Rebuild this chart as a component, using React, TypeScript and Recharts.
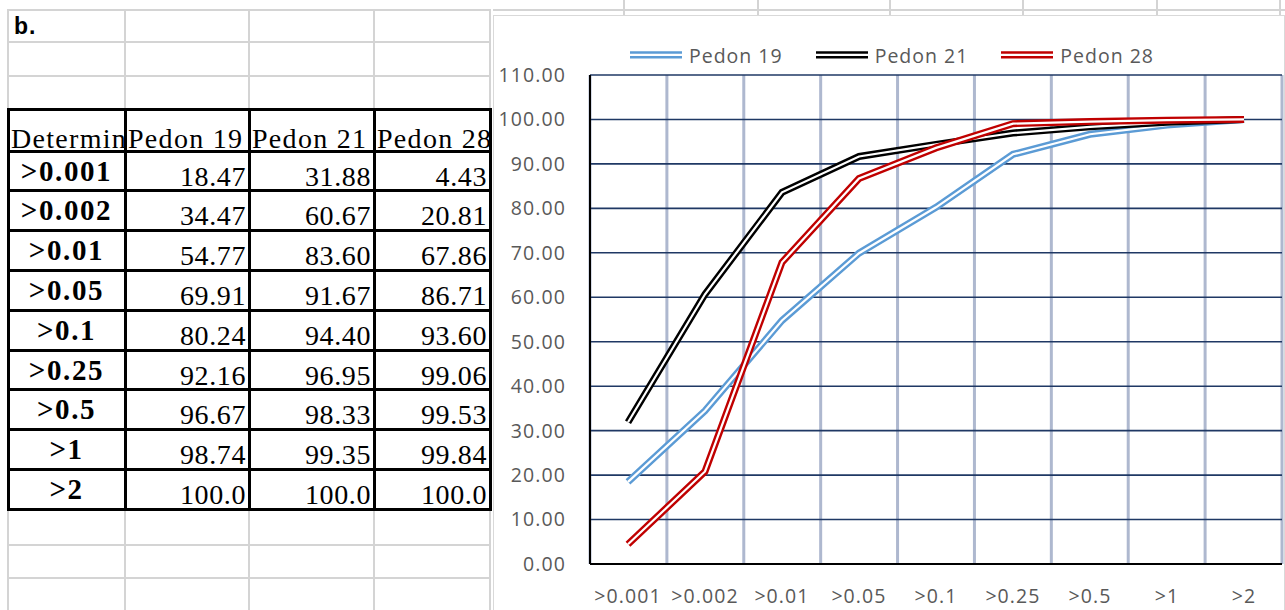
import React from "react";
import { LineChart, Line, XAxis, YAxis, CartesianGrid } from "recharts";

const categories = [">0.001", ">0.002", ">0.01", ">0.05", ">0.1", ">0.25", ">0.5", ">1", ">2"];
const pedon19 = [18.47, 34.47, 54.77, 69.91, 80.24, 92.16, 96.67, 98.74, 100.0];
const pedon21 = [31.88, 60.67, 83.6, 91.67, 94.4, 96.95, 98.33, 99.35, 100.0];
const pedon28 = [4.43, 20.81, 67.86, 86.71, 93.6, 99.06, 99.53, 99.84, 100.0];
const seriesNames = ["Pedon 19", "Pedon 21", "Pedon 28"];
const yTicks = [0, 10, 20, 30, 40, 50, 60, 70, 80, 90, 100, 110];
const headerLabel = "Determination";

const COLORS = ["#5B9BD5", "#000000", "#C00000"];
const KEYS = ["p19", "p21", "p28"];
const SERIES = [pedon19, pedon21, pedon28];

const data = categories.map((cat, i) => ({
  cat,
  pos: i + 0.5,
  p19: pedon19[i],
  p21: pedon21[i],
  p28: pedon28[i],
}));

// category boundaries on the hidden numeric axis, for the vertical gridlines
const bounds = categories.slice(1).map((_, i) => i + 1);

const tickStyle = { fill: "#595959", fontSize: 19.5, fontFamily: "'Open Sans'", letterSpacing: 1.1 };

// spreadsheet layout
const colX = [8, 125, 249, 374, 490];
const tableTop = 109;
const headerBottom = 151;
const rowH = 39.8;
const rowY = categories.map((_, i) => headerBottom + (i + 1) * rowH);
const tableBottom = rowY[rowY.length - 1];
const fmt = (v: number) => (v >= 100 ? v.toFixed(1) : v.toFixed(2));

const serif = "'Liberation Serif', 'Times New Roman', serif";

const Cell = ({ x0, x1, base, text, bold = false, align = "right", size = 28, ls = 0, clip = false }: any) => {
  const h = size * 1.2;
  return (
    <div
      style={{
        position: "absolute",
        left: x0 + 2,
        width: x1 - x0 - 4,
        top: base - 0.9375 * size,
        height: h,
        lineHeight: `${h}px`,
        fontSize: size,
        fontFamily: serif,
        fontWeight: bold ? 700 : 400,
        letterSpacing: ls,
        textAlign: align,
        whiteSpace: "nowrap",
        overflow: clip ? "hidden" : "visible",
        color: "#000",
      }}
    >
      {text}
    </div>
  );
};

const hLine = (y: number, x0: number, x1: number, c: string, w: number, k: string) => (
  <div key={k} style={{ position: "absolute", left: x0, top: y - w / 2, width: x1 - x0, height: w, background: c }} />
);
const vLine = (x: number, y0: number, y1: number, c: string, w: number, k: string) => (
  <div key={k} style={{ position: "absolute", left: x - w / 2, top: y0, width: w, height: y1 - y0, background: c }} />
);

const GREY = "#d4d4d4";

const Sheet = () => {
  const lines: any[] = [];
  // grey spreadsheet grid above and below the table
  [10, 42, 76].forEach((y, i) => lines.push(hLine(y, 7, 491, GREY, 2, "gt" + i)));
  [545, 578].forEach((y, i) => lines.push(hLine(y, 7, 491, GREY, 2, "gb" + i)));
  colX.forEach((x, i) => {
    lines.push(vLine(x, 10, tableTop, GREY, 2, "gvt" + i));
    lines.push(vLine(x, tableBottom, 610, GREY, 2, "gvb" + i));
  });
  // grey strip above the chart
  lines.push(hLine(10, 493, 1285, GREY, 2, "ct"));
  [624, 758, 890, 1023, 1157, 1280].forEach((x, i) => lines.push(vLine(x, 0, 15, GREY, 2, "cv" + i)));
  // black table borders
  [tableTop, headerBottom, ...rowY].forEach((y, i) => lines.push(hLine(y, 6.5, 491.5, "#000", 3, "bh" + i)));
  colX.forEach((x, i) => lines.push(vLine(x, tableTop - 1.5, tableBottom + 1.5, "#000", 3, "bv" + i)));

  const cells: any[] = [];
  const heads = [headerLabel, ...seriesNames];
  heads.forEach((h, c) =>
    cells.push(
      <Cell key={"h" + c} x0={colX[c] + 1} x1={colX[c + 1] + 1} base={148} text={h} align="left" ls={1.3} clip />
    )
  );
  categories.forEach((cat, r) => {
    const bottom = rowY[r];
    cells.push(
      <Cell key={"l" + r} x0={colX[0]} x1={colX[1]} base={bottom - 10} text={cat} bold align="center" size={29} ls={1.6} />
    );
    SERIES.forEach((s, c) =>
      cells.push(
        <Cell key={"v" + r + c} x0={colX[c + 1]} x1={colX[c + 2] - 1} base={bottom - 5} text={fmt(s[r])} ls={0.6} />
      )
    );
  });

  return (
    <>
      {lines}
      <div
        style={{
          position: "absolute",
          left: 14,
          top: 13,
          fontFamily: "'Liberation Sans', Arial, sans-serif",
          fontWeight: 700,
          fontSize: 23,
          letterSpacing: 1,
          lineHeight: "26px",
        }}
      >
        b.
      </div>
      {cells}
    </>
  );
};

const LegendBox = () => (
  <div
    style={{
      position: "absolute",
      left: 630,
      top: 43,
      height: 24,
      display: "flex",
      alignItems: "center",
      gap: 33,
      fontFamily: "'Open Sans'",
      fontSize: 19.5,
      letterSpacing: 1,
      color: "#595959",
    }}
  >
    {seriesNames.map((n, i) => (
      <div key={n} style={{ display: "flex", alignItems: "center", gap: 7 }}>
        <svg width={52} height={10}>
          <line x1={0} x2={52} y1={2.5} y2={2.5} stroke={COLORS[i]} strokeWidth={2.6} />
          <line x1={0} x2={52} y1={7.2} y2={7.2} stroke={COLORS[i]} strokeWidth={2.6} />
        </svg>
        <span>{n}</span>
      </div>
    ))}
  </div>
);

export default function App() {
  return (
    <div style={{ position: "absolute", left: 0, top: 0, width: 1285, height: 610, background: "#fff", overflow: "hidden" }}>
      <Sheet />
      <div
        style={{
          position: "absolute",
          left: 493,
          top: 15,
          width: 790,
          height: 600,
          border: "1px solid #d9d9d9",
          background: "#fff",
        }}
      />
      <div style={{ position: "absolute", left: 494, top: 16 }}>
        <LineChart width={790} height={594} data={data} margin={{ top: 59, right: 2, bottom: 0, left: 0 }}>
          <XAxis xAxisId="g" type="number" dataKey="pos" domain={[0, 9]} ticks={bounds} hide allowDataOverflow />
          <CartesianGrid xAxisId="g" horizontal={false} stroke="#AEB8CF" strokeWidth={3} />
          <CartesianGrid vertical={false} stroke="#1F3864" strokeWidth={1.6} />
          <XAxis
            dataKey="cat"
            padding={{ left: 38, right: 38 }}
            interval={0}
            tickSize={0}
            tickMargin={25}
            height={46}
            axisLine={{ stroke: "#000", strokeWidth: 2 }}
            tick={tickStyle}
          />
          <YAxis
            domain={[0, 110]}
            ticks={yTicks}
            interval={0}
            width={96}
            tickSize={0}
            tickMargin={24}
            tickFormatter={(v: number) => v.toFixed(2)}
            axisLine={{ stroke: "#000", strokeWidth: 2 }}
            tick={tickStyle}
          />
          {KEYS.flatMap((k, i) => [
            <Line
              key={k + "o"}
              dataKey={k}
              type="linear"
              stroke={COLORS[i]}
              strokeWidth={7}
              dot={false}
              activeDot={false}
              isAnimationActive={false}
            />,
            <Line
              key={k + "i"}
              dataKey={k}
              type="linear"
              stroke="#fff"
              strokeWidth={2.2}
              dot={false}
              activeDot={false}
              isAnimationActive={false}
            />,
          ])}
        </LineChart>
      </div>
      <LegendBox />
    </div>
  );
}
